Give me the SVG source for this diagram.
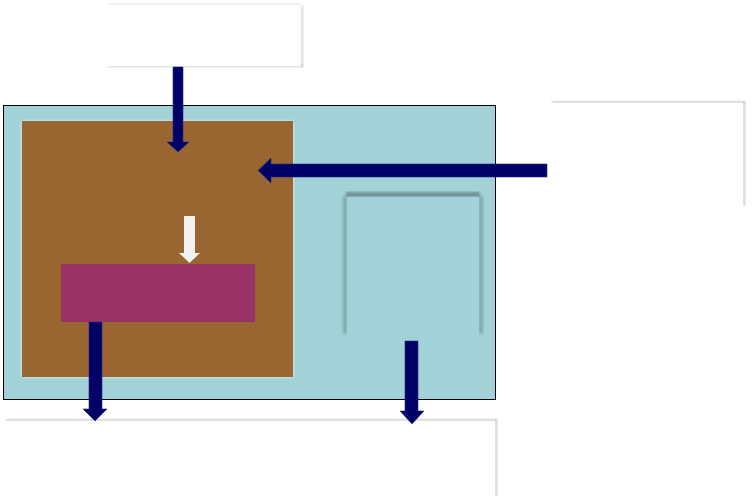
<svg xmlns="http://www.w3.org/2000/svg" width="752" height="501" viewBox="0 0 752 501">
<defs>
<style>
.box{fill:#ffffff}
.shadow{fill:#000;opacity:0.18}
.ishadow{fill:#3f6b6f;opacity:0.4}
.arrow{fill:#000066;stroke:#2a2a80;stroke-width:0.6}
.warrow{fill:#f2f2f2}
</style>
<filter id="blur" x="-20%" y="-20%" width="140%" height="140%">
<feGaussianBlur stdDeviation="1.2"/>
</filter>
<filter id="blur2" x="-100%" y="-10%" width="300%" height="120%">
<feGaussianBlur stdDeviation="1.6"/>
</filter>
<filter id="glow" x="-5%" y="-5%" width="110%" height="110%">
<feGaussianBlur in="SourceAlpha" stdDeviation="1.5" result="b"/>
<feFlood flood-color="#ffffff" flood-opacity="0.7"/>
<feComposite in2="b" operator="in"/>
<feMerge><feMergeNode/><feMergeNode in="SourceGraphic"/></feMerge>
</filter>
</defs>

<g id="top-box">
<rect class="shadow" x="108" y="65" width="195" height="2" filter="url(#blur)"/>
<rect class="shadow" x="301" y="6" width="2" height="61" filter="url(#blur)"/>
<rect class="shadow" x="108" y="4" width="193" height="1" opacity="0.08" filter="url(#blur)"/>
<rect x="107" y="5" width="194" height="61" class="box"/>
</g>
<g id="right-box">
<rect class="shadow" x="552" y="101" width="193" height="2.5" filter="url(#blur)"/>
<rect class="shadow" x="743" y="102" width="2.5" height="104" filter="url(#blur)"/>
<rect x="551" y="103" width="192" height="104" class="box"/>
</g>
<g id="bottom-box">
<rect class="shadow" x="6" y="419" width="491" height="2.5" filter="url(#blur)"/>
<rect class="shadow" x="495" y="420" width="2.5" height="76" filter="url(#blur)"/>
<rect x="6" y="421" width="489" height="80" class="box"/>
</g>

<g id="main-container">
<rect x="3.5" y="105.5" width="492" height="294" fill="#a2d2d7" stroke="#000" stroke-width="1"/>
</g>
<g id="brown-block">
<rect x="22" y="121" width="271" height="256" fill="#996633" filter="url(#glow)"/>
</g>
<g id="magenta-block">
<rect x="61" y="264" width="194" height="58" fill="#993366"/>
</g>
<g id="inner-box">
<rect class="ishadow" x="343" y="196" width="4" height="138" filter="url(#blur2)"/>
<rect class="ishadow" x="479" y="196" width="4" height="138" filter="url(#blur2)"/>
<rect x="346" y="192" width="134" height="5" fill="#6a8c8e" filter="url(#blur)" opacity="0.9"/>
<rect x="347" y="197" width="132" height="140" fill="#a2d2d7"/>
</g>

<g id="connectors">
<polygon class="arrow" points="173,67 183,67 183,142 189,142 178,152 167,142 173,142"/>
<polygon class="arrow" points="547,164 547,177 271,177 271,183 258,170.5 271,158 271,164"/>
<polygon class="warrow" points="184,216 195,216 195,253 200,253 189.5,263 179,253 184,253"/>
<polygon class="arrow" points="89,322 102,322 102,409 107,409 95,421 83,409 89,409"/>
<polygon class="arrow" points="405,341 418,341 418,411 424,411 412,424 400,411 405,411"/>
</g>
</svg>
